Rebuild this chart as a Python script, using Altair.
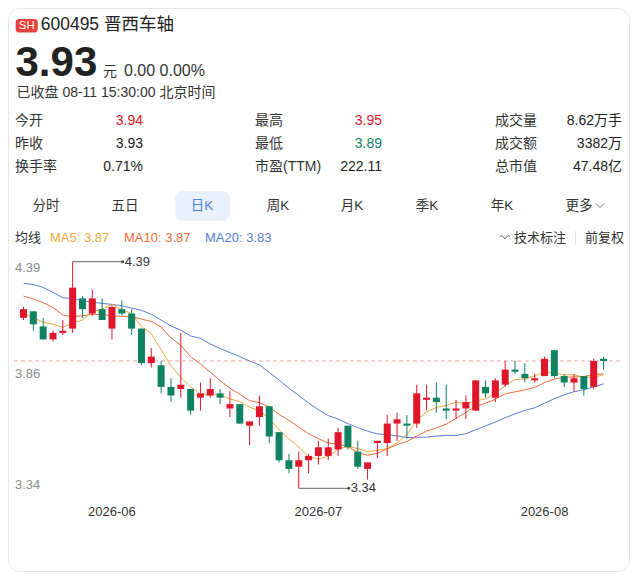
import altair as alt
import pandas as pd

# 晋西车轴 600495 日K, 2026-05-19 .. 2026-08-11 (60 trading days)
opens = [4.13, 4.16, 4.09, 4.03, 4.06, 4.08, 4.22, 4.15, 4.17, 4.08,
         4.17, 4.15, 4.08, 3.92, 3.91, 3.81, 3.80, 3.80, 3.76, 3.77,
         3.78, 3.71, 3.73, 3.63, 3.67, 3.72, 3.60, 3.47, 3.44, 3.47,
         3.49, 3.49, 3.52, 3.63, 3.51, 3.43, 3.55, 3.55, 3.64, 3.64,
         3.64, 3.75, 3.76, 3.71, 3.70, 3.71, 3.70, 3.81, 3.76, 3.82,
         3.89, 3.87, 3.84, 3.86, 3.98, 3.86, 3.83, 3.86, 3.81, 3.94]
highs = [4.18, 4.16, 4.13, 4.07, 4.12, 4.39, 4.23, 4.26, 4.22, 4.19,
         4.21, 4.17, 4.08, 3.99, 3.93, 3.85, 4.06, 3.80, 3.83, 3.85,
         3.80, 3.79, 3.73, 3.65, 3.77, 3.72, 3.60, 3.50, 3.51, 3.50,
         3.56, 3.57, 3.62, 3.63, 3.56, 3.46, 3.56, 3.68, 3.69, 3.68,
         3.82, 3.82, 3.83, 3.82, 3.75, 3.77, 3.84, 3.84, 3.85, 3.93,
         3.93, 3.92, 3.87, 3.95, 3.98, 3.87, 3.87, 3.86, 3.94, 3.95]
lows = [4.12, 4.07, 4.03, 4.02, 4.05, 4.06, 4.13, 4.14, 4.12, 4.03,
        4.14, 4.05, 3.91, 3.90, 3.78, 3.74, 3.76, 3.68, 3.70, 3.76,
        3.73, 3.67, 3.64, 3.54, 3.63, 3.55, 3.46, 3.41, 3.34, 3.41,
        3.45, 3.47, 3.49, 3.52, 3.43, 3.38, 3.48, 3.49, 3.56, 3.57,
        3.62, 3.70, 3.69, 3.66, 3.66, 3.66, 3.70, 3.76, 3.74, 3.81,
        3.87, 3.83, 3.83, 3.86, 3.85, 3.81, 3.79, 3.77, 3.80, 3.89]
closes = [4.17, 4.10, 4.03, 4.06, 4.07, 4.27, 4.17, 4.22, 4.12, 4.18,
          4.15, 4.08, 3.92, 3.95, 3.81, 3.77, 3.82, 3.70, 3.78, 3.80,
          3.76, 3.73, 3.64, 3.65, 3.72, 3.58, 3.47, 3.43, 3.47, 3.49,
          3.53, 3.53, 3.60, 3.53, 3.44, 3.46, 3.56, 3.64, 3.66, 3.63,
          3.78, 3.76, 3.74, 3.70, 3.71, 3.74, 3.84, 3.78, 3.84, 3.89,
          3.88, 3.85, 3.85, 3.94, 3.86, 3.83, 3.85, 3.80, 3.93, 3.93]

ma5 = [4.150, 4.130, 4.110, 4.100, 4.086, 4.105, 4.120, 4.158, 4.170, 4.193,
       4.168, 4.150, 4.090, 4.056, 3.982, 3.907, 3.854, 3.810, 3.776, 3.774,
       3.772, 3.754, 3.742, 3.716, 3.699, 3.663, 3.611, 3.569, 3.532, 3.486,
       3.476, 3.488, 3.522, 3.534, 3.524, 3.510, 3.516, 3.524, 3.550, 3.589,
       3.654, 3.694, 3.715, 3.724, 3.739, 3.731, 3.746, 3.754, 3.780, 3.816,
       3.844, 3.846, 3.860, 3.880, 3.875, 3.866, 3.866, 3.855, 3.854, 3.867]
ma10 = [4.231, 4.217, 4.200, 4.178, 4.143, 4.135, 4.140, 4.146, 4.145, 4.139,
        4.137, 4.135, 4.124, 4.113, 4.087, 4.037, 4.002, 3.950, 3.916, 3.878,
        3.839, 3.804, 3.776, 3.746, 3.737, 3.717, 3.682, 3.655, 3.624, 3.593,
        3.570, 3.550, 3.545, 3.533, 3.505, 3.493, 3.502, 3.523, 3.542, 3.557,
        3.582, 3.605, 3.619, 3.637, 3.664, 3.692, 3.720, 3.734, 3.752, 3.778,
        3.787, 3.796, 3.807, 3.830, 3.846, 3.855, 3.856, 3.858, 3.867, 3.871]
ma20 = [4.290, 4.284, 4.271, 4.248, 4.223, 4.219, 4.209, 4.202, 4.197, 4.192,
        4.186, 4.175, 4.165, 4.146, 4.120, 4.092, 4.073, 4.046, 4.035, 4.009,
        3.988, 3.969, 3.950, 3.930, 3.912, 3.877, 3.842, 3.803, 3.770, 3.735,
        3.704, 3.677, 3.661, 3.640, 3.621, 3.605, 3.592, 3.589, 3.583, 3.575,
        3.576, 3.577, 3.582, 3.585, 3.585, 3.593, 3.611, 3.629, 3.647, 3.667,
        3.685, 3.701, 3.713, 3.734, 3.755, 3.773, 3.788, 3.796, 3.810, 3.824]

month_idx = [9, 30, 53]
month_labels = ["2026-06", "2026-07", "2026-08"]
price_ticks = [4.39, 3.86, 3.34]
last_close = 3.93

info_labels = [["今开", "昨收", "换手率"], ["最高", "最低", "市盈(TTM)"], ["成交量", "成交额", "总市值"]]
info_values = [["3.94", "3.93", "0.71%"], ["3.95", "3.89", "222.11"], ["8.62万手", "3382万", "47.48亿"]]
info_tone = [["up", "flat", "flat"], ["up", "down", "flat"], ["flat", "flat", "flat"]]
tabs = ["分时", "五日", "日K", "周K", "月K", "季K", "年K", "更多"]

FONT = "Liberation Sans, Noto Sans CJK SC"
RED = "#e0162b"
GREEN = "#0f8262"
DARK = "#222222"
TEXT = "#333333"
C5, C10, C20 = "#f5a73c", "#f06c3a", "#5a7ddc"
tone_color = {"up": RED, "down": GREEN, "flat": DARK}

one = pd.DataFrame({"k": [0]})


def label(text, x, y, size=14, color=TEXT, align="left", baseline="middle", weight="normal"):
    return alt.Chart(one).mark_text(
        text=text, align=align, baseline=baseline, fontSize=size,
        color=color, font=FONT, fontWeight=weight
    ).encode(x=alt.value(x), y=alt.value(y))


idx = list(range(len(closes)))
kline = pd.DataFrame({"idx": idx, "open": opens, "high": highs, "low": lows, "close": closes})
kline["dir"] = ["up" if c > o else "down" for o, c in zip(opens, closes)]
ma = pd.DataFrame({"idx": idx, "ma5": ma5, "ma10": ma10, "ma20": ma20})

xs = alt.Scale(domain=[0, 59], range=[10.5, 600.5])
ys = alt.Scale(domain=[3.34, 4.39], range=[480.3, 253.7], nice=False, zero=False)
cs = alt.Scale(domain=["up", "down"], range=[RED, GREEN])
X = alt.X("idx:Q", scale=xs, axis=None)

def Y(f):
    return alt.Y(f, scale=ys, axis=None)

layers = []

# card + header
layers.append(alt.Chart(one).mark_rect(cornerRadius=12, fillOpacity=0, stroke="#e6e6e6", strokeWidth=1)
              .encode(x=alt.value(0.5), y=alt.value(0.5), x2=alt.value(621.5), y2=alt.value(563.5)))
layers.append(alt.Chart(one).mark_rect(cornerRadius=3, color="#e8403c")
              .encode(x=alt.value(7.7), y=alt.value(11), x2=alt.value(29.7), y2=alt.value(24.5)))
layers.append(label("SH", 18.7, 18, size=11.5, color="white", align="center"))
layers.append(label("600495 晋西车轴", 32.7, 16.5, size=17.5, color=DARK))
layers.append(label("3.93", 7.5, 68, size=42, color=DARK, baseline="alphabetic", weight="bold"))
layers.append(label("元", 95, 68, size=14, baseline="alphabetic"))
layers.append(label("0.00 0.00%", 116, 68, size=16, baseline="alphabetic"))
layers.append(label("已收盘 08-11 15:30:00 北京时间", 8.5, 84.5, size=14))

col_lx = [7, 247, 487]
col_vx = [135, 374, 614]
row_y = [113, 136, 159]
for c in range(3):
    for r in range(3):
        layers.append(label(info_labels[c][r], col_lx[c], row_y[r]))
        layers.append(label(info_values[c][r], col_vx[c], row_y[r], color=tone_color[info_tone[c][r]], align="right"))

# period tabs
layers.append(alt.Chart(one).mark_rect(cornerRadius=8, color="#e9f1fd")
              .encode(x=alt.value(167), y=alt.value(183), x2=alt.value(222), y2=alt.value(213)))
tab_x = [38, 117, 194, 270, 344, 419, 494, 571]
for name, tx in zip(tabs, tab_x):
    layers.append(label(name, tx, 198, size=13.5, color="#4d7fe6" if name == "日K" else TEXT, align="center"))
layers.append(alt.Chart(one).mark_point(shape="M-1,-0.5L0,0.5L1,-0.5", filled=False, size=64, color=TEXT, strokeWidth=1)
              .encode(x=alt.value(592), y=alt.value(197.5)))

# MA legend row
layers.append(label("均线", 7, 229.5, size=13))
layers.append(label("MA5: 3.87", 42, 229.5, size=13, color=C5))
layers.append(label("MA10: 3.87", 116, 229.5, size=13, color=C10))
layers.append(label("MA20: 3.83", 197, 229.5, size=13, color=C20))
layers.append(alt.Chart(one).mark_point(shape="M-1,-0.2L-0.6,-0.4L0,0.3L0.6,-0.4L1,-0.2", filled=False, size=100, color=TEXT, strokeWidth=1)
              .encode(x=alt.value(497), y=alt.value(229.5)))
layers.append(label("技术标注", 506, 229.5, size=13))
layers.append(alt.Chart(one).mark_rule(color="#e3e3e3")
              .encode(x=alt.value(567.5), y=alt.value(223), y2=alt.value(237)))
layers.append(label("前复权", 577, 229.5, size=13))

# price chart
layers.append(alt.Chart(pd.DataFrame({"p": [last_close]}))
              .mark_rule(color="#f2a3a3", strokeDash=[4, 3], strokeWidth=1)
              .encode(y=Y("p:Q"), x=alt.value(6), x2=alt.value(614)))

for col, colr in [("ma20", C20), ("ma10", C10), ("ma5", C5)]:
    layers.append(alt.Chart(ma).mark_line(strokeWidth=1, color=colr).encode(x=X, y=Y(f"{col}:Q")))

color = alt.Color("dir:N", scale=cs, legend=None)
layers.append(alt.Chart(kline).mark_rule(strokeWidth=1).encode(x=X, y=Y("low:Q"), y2="high:Q", color=color))
layers.append(alt.Chart(kline).mark_bar(size=7).encode(x=X, y=Y("open:Q"), y2="close:Q", color=color))

# highest / lowest markers
hi = kline.loc[kline["high"].idxmax()]
lo = kline.loc[kline["low"].idxmin()]
for row, field in [(hi, "high"), (lo, "low")]:
    d = pd.DataFrame({"idx": [int(row["idx"])], "p": [float(row[field])]})
    layers.append(alt.Chart(d).mark_rule(color="#666666", strokeWidth=1, x2Offset=50)
                  .encode(x=X, x2="idx:Q", y=Y("p:Q")))
    layers.append(alt.Chart(d).mark_circle(size=9, color="#444444", opacity=1, xOffset=50)
                  .encode(x=X, y=Y("p:Q")))
    layers.append(alt.Chart(d).mark_text(align="left", baseline="middle", dx=52, fontSize=13, color=TEXT, font=FONT)
                  .encode(x=X, y=Y("p:Q"), text=alt.Text("p:Q", format=".2f")))

# price labels inside the plot
for v, dy in zip(price_ticks, [6, -2, -3]):
    layers.append(alt.Chart(pd.DataFrame({"p": [v]}))
                  .mark_text(align="left", baseline="middle", dy=dy, fontSize=13, color="#8c8c8c", font=FONT)
                  .encode(x=alt.value(7), y=Y("p:Q"), text=alt.Text("p:Q", format=".2f")))

# month labels
layers.append(alt.Chart(pd.DataFrame({"idx": month_idx, "label": month_labels}))
              .mark_text(align="center", baseline="middle", fontSize=13, color=TEXT, font=FONT)
              .encode(x=X, y=alt.value(504), text="label:N"))

chart = alt.layer(*layers).properties(
    width=622, height=564,
    autosize=alt.AutoSizeParams(type="none"),
    padding=0,
    background="white",
).configure_view(strokeWidth=0)

chart.save("out.html", embed_options={"renderer": "svg", "actions": False})
